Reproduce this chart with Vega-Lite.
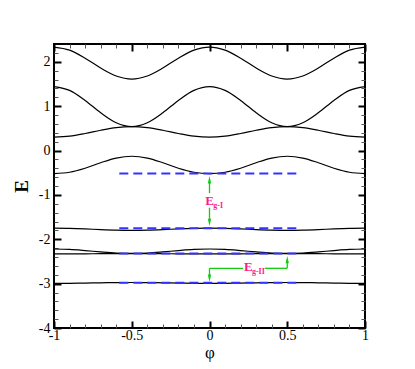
{
  "$schema": "https://vega.github.io/schema/vega-lite/v6.json",
  "width": 311,
  "height": 284,
  "autosize": {"type": "none"},
  "padding": {"left": 54, "top": 44, "right": 50, "bottom": 41},
  "background": "white",
  "view": {"stroke": "black", "strokeWidth": 2},
  "config": {
    "axis": {"domain": false, "grid": false, "labelFont": "Liberation Serif", "titleFont": "Liberation Serif", "labelColor": "black", "titleColor": "black", "tickColor": "black"}
  },
  "datasets": {
    "bands": [
      {"b":1,"x":-1,"y":2.33},{"b":1,"x":-0.9,"y":2.261},{"b":1,"x":-0.8,"y":2.081},{"b":1,"x":-0.7,"y":1.859},{"b":1,"x":-0.6,"y":1.679},{"b":1,"x":-0.5,"y":1.61},{"b":1,"x":-0.4,"y":1.679},{"b":1,"x":-0.3,"y":1.859},{"b":1,"x":-0.2,"y":2.081},{"b":1,"x":-0.1,"y":2.261},{"b":1,"x":0,"y":2.33},{"b":1,"x":0.1,"y":2.261},{"b":1,"x":0.2,"y":2.081},{"b":1,"x":0.3,"y":1.859},{"b":1,"x":0.4,"y":1.679},{"b":1,"x":0.5,"y":1.61},{"b":1,"x":0.6,"y":1.679},{"b":1,"x":0.7,"y":1.859},{"b":1,"x":0.8,"y":2.081},{"b":1,"x":0.9,"y":2.261},{"b":1,"x":1,"y":2.33},
      {"b":2,"x":-1,"y":1.44},{"b":2,"x":-0.9,"y":1.354},{"b":2,"x":-0.8,"y":1.129},{"b":2,"x":-0.7,"y":0.851},{"b":2,"x":-0.6,"y":0.626},{"b":2,"x":-0.5,"y":0.54},{"b":2,"x":-0.4,"y":0.626},{"b":2,"x":-0.3,"y":0.851},{"b":2,"x":-0.2,"y":1.129},{"b":2,"x":-0.1,"y":1.354},{"b":2,"x":0,"y":1.44},{"b":2,"x":0.1,"y":1.354},{"b":2,"x":0.2,"y":1.129},{"b":2,"x":0.3,"y":0.851},{"b":2,"x":0.4,"y":0.626},{"b":2,"x":0.5,"y":0.54},{"b":2,"x":0.6,"y":0.626},{"b":2,"x":0.7,"y":0.851},{"b":2,"x":0.8,"y":1.129},{"b":2,"x":0.9,"y":1.354},{"b":2,"x":1,"y":1.44},
      {"b":3,"x":-1,"y":0.3},{"b":3,"x":-0.9,"y":0.323},{"b":3,"x":-0.8,"y":0.383},{"b":3,"x":-0.7,"y":0.457},{"b":3,"x":-0.6,"y":0.517},{"b":3,"x":-0.5,"y":0.54},{"b":3,"x":-0.4,"y":0.517},{"b":3,"x":-0.3,"y":0.457},{"b":3,"x":-0.2,"y":0.383},{"b":3,"x":-0.1,"y":0.323},{"b":3,"x":0,"y":0.3},{"b":3,"x":0.1,"y":0.323},{"b":3,"x":0.2,"y":0.383},{"b":3,"x":0.3,"y":0.457},{"b":3,"x":0.4,"y":0.517},{"b":3,"x":0.5,"y":0.54},{"b":3,"x":0.6,"y":0.517},{"b":3,"x":0.7,"y":0.457},{"b":3,"x":0.8,"y":0.383},{"b":3,"x":0.9,"y":0.323},{"b":3,"x":1,"y":0.3},
      {"b":4,"x":-1,"y":-0.52},{"b":4,"x":-0.9,"y":-0.49},{"b":4,"x":-0.8,"y":-0.4},{"b":4,"x":-0.7,"y":-0.275},{"b":4,"x":-0.6,"y":-0.17},{"b":4,"x":-0.5,"y":-0.13},{"b":4,"x":-0.4,"y":-0.17},{"b":4,"x":-0.3,"y":-0.275},{"b":4,"x":-0.2,"y":-0.4},{"b":4,"x":-0.1,"y":-0.49},{"b":4,"x":0,"y":-0.52},{"b":4,"x":0.1,"y":-0.49},{"b":4,"x":0.2,"y":-0.4},{"b":4,"x":0.3,"y":-0.275},{"b":4,"x":0.4,"y":-0.17},{"b":4,"x":0.5,"y":-0.13},{"b":4,"x":0.6,"y":-0.17},{"b":4,"x":0.7,"y":-0.275},{"b":4,"x":0.8,"y":-0.4},{"b":4,"x":0.9,"y":-0.49},{"b":4,"x":1,"y":-0.52},
      {"b":5,"x":-1,"y":-1.75},{"b":5,"x":-0.9,"y":-1.755},{"b":5,"x":-0.8,"y":-1.767},{"b":5,"x":-0.7,"y":-1.783},{"b":5,"x":-0.6,"y":-1.795},{"b":5,"x":-0.5,"y":-1.8},{"b":5,"x":-0.4,"y":-1.795},{"b":5,"x":-0.3,"y":-1.783},{"b":5,"x":-0.2,"y":-1.767},{"b":5,"x":-0.1,"y":-1.755},{"b":5,"x":0,"y":-1.75},{"b":5,"x":0.1,"y":-1.755},{"b":5,"x":0.2,"y":-1.767},{"b":5,"x":0.3,"y":-1.783},{"b":5,"x":0.4,"y":-1.795},{"b":5,"x":0.5,"y":-1.8},{"b":5,"x":0.6,"y":-1.795},{"b":5,"x":0.7,"y":-1.783},{"b":5,"x":0.8,"y":-1.767},{"b":5,"x":0.9,"y":-1.755},{"b":5,"x":1,"y":-1.75},
      {"b":6,"x":-1,"y":-2.22},{"b":6,"x":-0.9,"y":-2.23},{"b":6,"x":-0.8,"y":-2.255},{"b":6,"x":-0.7,"y":-2.285},{"b":6,"x":-0.6,"y":-2.31},{"b":6,"x":-0.5,"y":-2.32},{"b":6,"x":-0.4,"y":-2.31},{"b":6,"x":-0.3,"y":-2.285},{"b":6,"x":-0.2,"y":-2.255},{"b":6,"x":-0.1,"y":-2.23},{"b":6,"x":0,"y":-2.22},{"b":6,"x":0.1,"y":-2.23},{"b":6,"x":0.2,"y":-2.255},{"b":6,"x":0.3,"y":-2.285},{"b":6,"x":0.4,"y":-2.31},{"b":6,"x":0.5,"y":-2.32},{"b":6,"x":0.6,"y":-2.31},{"b":6,"x":0.7,"y":-2.285},{"b":6,"x":0.8,"y":-2.255},{"b":6,"x":0.9,"y":-2.23},{"b":6,"x":1,"y":-2.22},
      {"b":7,"x":-1,"y":-2.33},{"b":7,"x":-0.9,"y":-2.33},{"b":7,"x":-0.8,"y":-2.328},{"b":7,"x":-0.7,"y":-2.326},{"b":7,"x":-0.6,"y":-2.325},{"b":7,"x":-0.5,"y":-2.324},{"b":7,"x":-0.4,"y":-2.325},{"b":7,"x":-0.3,"y":-2.326},{"b":7,"x":-0.2,"y":-2.328},{"b":7,"x":-0.1,"y":-2.33},{"b":7,"x":0,"y":-2.33},{"b":7,"x":0.1,"y":-2.33},{"b":7,"x":0.2,"y":-2.328},{"b":7,"x":0.3,"y":-2.326},{"b":7,"x":0.4,"y":-2.325},{"b":7,"x":0.5,"y":-2.324},{"b":7,"x":0.6,"y":-2.325},{"b":7,"x":0.7,"y":-2.326},{"b":7,"x":0.8,"y":-2.328},{"b":7,"x":0.9,"y":-2.33},{"b":7,"x":1,"y":-2.33},
      {"b":8,"x":-1,"y":-2.995},{"b":8,"x":-0.9,"y":-2.993},{"b":8,"x":-0.8,"y":-2.988},{"b":8,"x":-0.7,"y":-2.982},{"b":8,"x":-0.6,"y":-2.977},{"b":8,"x":-0.5,"y":-2.975},{"b":8,"x":-0.4,"y":-2.977},{"b":8,"x":-0.3,"y":-2.982},{"b":8,"x":-0.2,"y":-2.988},{"b":8,"x":-0.1,"y":-2.993},{"b":8,"x":0,"y":-2.995},{"b":8,"x":0.1,"y":-2.993},{"b":8,"x":0.2,"y":-2.988},{"b":8,"x":0.3,"y":-2.982},{"b":8,"x":0.4,"y":-2.977},{"b":8,"x":0.5,"y":-2.975},{"b":8,"x":0.6,"y":-2.977},{"b":8,"x":0.7,"y":-2.982},{"b":8,"x":0.8,"y":-2.988},{"b":8,"x":0.9,"y":-2.993},{"b":8,"x":1,"y":-2.995}
    ],
    "dashes": [
      {"x":-0.58,"x2":0.59,"y":-0.52},
      {"x":-0.58,"x2":0.59,"y":-1.75},
      {"x":-0.58,"x2":0.59,"y":-2.32},
      {"x":-0.58,"x2":0.59,"y":-2.98}
    ],
    "segs": [
      {"x":0,"y":-0.66,"x2":0,"y2":-0.96},
      {"x":0,"y":-1.29,"x2":0,"y2":-1.62},
      {"x":0.5,"y":-2.46,"x2":0.5,"y2":-2.655},
      {"x":0.5,"y":-2.655,"x2":0.355,"y2":-2.655},
      {"x":0.215,"y":-2.655,"x2":0,"y2":-2.655},
      {"x":0,"y":-2.655,"x2":0,"y2":-2.88}
    ],
    "heads": [
      {"x":0,"y":-0.66,"dir":"up"},
      {"x":0,"y":-1.62,"dir":"down"},
      {"x":0.5,"y":-2.46,"dir":"up"},
      {"x":0,"y":-2.88,"dir":"down"}
    ],
    "mainText": [
      {"x":0,"y":-1.13,"t":"E"},
      {"x":0.249,"y":-2.62,"t":"E"}
    ],
    "subText": [
      {"x":0.024,"y":-1.26,"t":"g-I"},
      {"x":0.273,"y":-2.745,"t":"g-II"}
    ]
  },
  "layer": [
    {
      "data": {"name": "bands"},
      "mark": {"type": "line", "interpolate": "monotone", "stroke": "black", "strokeWidth": 1.2},
      "encoding": {
        "x": {"field": "x", "type": "quantitative", "scale": {"domain": [-1, 1], "nice": false, "zero": false},
          "axis": {"orient": "bottom", "values": [-1, -0.5, 0, 0.5, 1], "tickSize": -7, "tickWidth": 2, "labelPadding": 7, "labelFontSize": 14, "labelExpr": "datum.value + ''", "labelFlush": false, "title": "φ", "titleFontSize": 17, "titleFontWeight": "normal", "titlePadding": 2}},
        "y": {"field": "y", "type": "quantitative", "scale": {"domain": [-4, 2.4], "nice": false, "zero": false},
          "axis": {"orient": "left", "values": [-4, -3, -2, -1, 0, 1, 2], "tickSize": -7, "tickWidth": 2, "labelPadding": 11, "labelFontSize": 14, "labelExpr": "datum.value + ''", "labelFlush": false, "title": "E", "titleFontSize": 19, "titleFontWeight": "bold", "titlePadding": 7}},
        "detail": {"field": "b", "type": "nominal"}
      }
    },
    {
      "data": {"name": "dashes"},
      "mark": {"type": "rule", "stroke": "#3333ff", "strokeWidth": 2, "strokeDash": [9, 5]},
      "encoding": {
        "x": {"field": "x", "type": "quantitative", "scale": {"domain": [-1, 1], "nice": false, "zero": false},
          "axis": {"orient": "top", "values": [-1, -0.5, 0, 0.5, 1], "tickSize": -7, "tickWidth": 2, "labels": false, "title": null}},
        "x2": {"field": "x2"},
        "y": {"field": "y", "type": "quantitative", "scale": {"domain": [-4, 2.4], "nice": false, "zero": false},
          "axis": {"orient": "right", "values": [-4, -3, -2, -1, 0, 1, 2], "tickSize": -7, "tickWidth": 2, "labels": false, "title": null}}
      }
    },
    {
      "data": {"name": "segs"},
      "mark": {"type": "rule", "stroke": "#11cc11", "strokeWidth": 1.3},
      "encoding": {
        "x": {"field": "x", "type": "quantitative", "scale": {"domain": [-1, 1], "nice": false, "zero": false},
          "axis": {"orient": "bottom", "values": [-0.9, -0.8, -0.7, -0.6, -0.4, -0.3, -0.2, -0.1, 0.1, 0.2, 0.3, 0.4, 0.6, 0.7, 0.8, 0.9], "tickSize": -4, "tickWidth": 1, "tickColor": "#555", "labels": false, "title": null}},
        "x2": {"field": "x2"},
        "y": {"field": "y", "type": "quantitative", "scale": {"domain": [-4, 2.4], "nice": false, "zero": false},
          "axis": {"orient": "left", "values": [-3.8, -3.6, -3.4, -3.2, -2.8, -2.6, -2.4, -2.2, -1.8, -1.6, -1.4, -1.2, -0.8, -0.6, -0.4, -0.2, 0.2, 0.4, 0.6, 0.8, 1.2, 1.4, 1.6, 1.8, 2.2], "tickSize": -4, "tickWidth": 1, "tickColor": "#555", "labels": false, "title": null}},
        "y2": {"field": "y2"}
      }
    },
    {
      "data": {"name": "heads"},
      "mark": {"type": "point", "filled": true, "fill": "#11cc11", "stroke": null, "opacity": 1, "size": 55},
      "encoding": {
        "x": {"field": "x", "type": "quantitative", "scale": {"domain": [-1, 1], "nice": false, "zero": false},
          "axis": {"orient": "top", "values": [-0.9, -0.8, -0.7, -0.6, -0.4, -0.3, -0.2, -0.1, 0.1, 0.2, 0.3, 0.4, 0.6, 0.7, 0.8, 0.9], "tickSize": -4, "tickWidth": 1, "tickColor": "#555", "labels": false, "title": null}},
        "y": {"field": "y", "type": "quantitative", "scale": {"domain": [-4, 2.4], "nice": false, "zero": false},
          "axis": {"orient": "right", "values": [-3.8, -3.6, -3.4, -3.2, -2.8, -2.6, -2.4, -2.2, -1.8, -1.6, -1.4, -1.2, -0.8, -0.6, -0.4, -0.2, 0.2, 0.4, 0.6, 0.8, 1.2, 1.4, 1.6, 1.8, 2.2], "tickSize": -4, "tickWidth": 1, "tickColor": "#555", "labels": false, "title": null}},
        "shape": {"field": "dir", "type": "nominal", "scale": {"domain": ["up", "down"], "range": ["M0,-1L0.45,1L-0.45,1Z", "M0,1L0.45,-1L-0.45,-1Z"]}, "legend": null}
      }
    },
    {
      "data": {"name": "mainText"},
      "mark": {"type": "text", "font": "Liberation Serif", "fontWeight": "bold", "fontSize": 13, "fill": "#ff1a8c", "align": "center", "baseline": "middle"},
      "encoding": {
        "x": {"field": "x", "type": "quantitative", "scale": {"domain": [-1, 1], "nice": false, "zero": false}, "axis": null},
        "y": {"field": "y", "type": "quantitative", "scale": {"domain": [-4, 2.4], "nice": false, "zero": false}, "axis": null},
        "text": {"field": "t"}
      }
    },
    {
      "data": {"name": "subText"},
      "mark": {"type": "text", "font": "Liberation Serif", "fontWeight": "bold", "fontSize": 8, "fill": "#ff1a8c", "align": "left", "baseline": "middle"},
      "encoding": {
        "x": {"field": "x", "type": "quantitative", "scale": {"domain": [-1, 1], "nice": false, "zero": false}, "axis": null},
        "y": {"field": "y", "type": "quantitative", "scale": {"domain": [-4, 2.4], "nice": false, "zero": false}, "axis": null},
        "text": {"field": "t"}
      }
    }
  ],
  "resolve": {"axis": {"x": "independent", "y": "independent"}}
}
